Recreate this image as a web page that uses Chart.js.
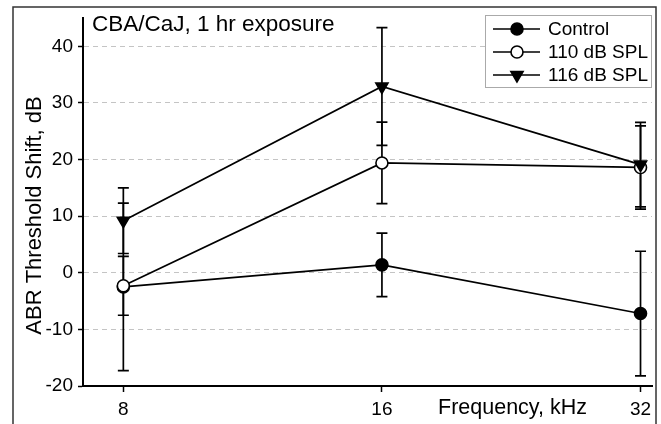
<!DOCTYPE html>
<html>
<head>
<meta charset="utf-8">
<script src="https://cdn.jsdelivr.net/npm/chart.js@4.4.1/dist/chart.umd.min.js"></script>
<style>
  html, body { margin: 0; padding: 0; background: #fff; }
</style>
</head>
<body>
<canvas id="grafico" width="661" height="424"></canvas>
<script>
// ---- datos ----
const frecuencias = [8, 16, 32];          // kHz
const nombresSeries = ['Control', '110 dB SPL', '116 dB SPL'];
const control = [-2.5, 1.4, -7.2];
const errControl = [14.8, 5.6, 11.0];
const spl110 = [-2.3, 19.4, 18.6];
const err110 = [5.2, 7.2, 7.35];
const spl116 = [9.2, 32.9, 19.1];
const err116 = [5.8, 10.4, 7.45];
const ticksX = [8, 16, 32];
const ticksY = [-20, -10, 0, 10, 20, 30, 40];

const FUENTE = "'Liberation Sans', Arial, sans-serif";
const errores = [errControl, err110, err116];

function puntos(valores) {
  return frecuencias.map((f, i) => ({ x: f, y: valores[i] }));
}

// dibuja un marcador igual que en la grafica (para la leyenda)
function marcador(ctx, tipo, relleno, x, y) {
  ctx.save();
  ctx.fillStyle = relleno;
  ctx.strokeStyle = '#000';
  ctx.lineWidth = 1.6;
  ctx.beginPath();
  if (tipo === 'triangle') {
    const r = 7;
    ctx.moveTo(x, y + r);
    ctx.lineTo(x - r * Math.sin(Math.PI / 3), y - r / 2);
    ctx.lineTo(x + r * Math.sin(Math.PI / 3), y - r / 2);
    ctx.closePath();
  } else {
    ctx.arc(x, y, 6, 0, Math.PI * 2);
  }
  ctx.fill();
  ctx.stroke();
  ctx.restore();
}

// barras de error (debajo de los marcadores)
const pluginErrores = {
  id: 'barrasError',
  beforeDatasetsDraw(chart) {
    const ctx = chart.ctx;
    const ejeY = chart.scales.y;
    ctx.save();
    ctx.strokeStyle = '#000';
    ctx.lineWidth = 1.7;
    chart.data.datasets.forEach((ds, i) => {
      const meta = chart.getDatasetMeta(i);
      meta.data.forEach((p, j) => {
        const v = ds.data[j].y;
        const e = errores[i][j];
        const yArr = ejeY.getPixelForValue(v + e);
        const yAba = ejeY.getPixelForValue(v - e);
        ctx.beginPath();
        ctx.moveTo(p.x, yArr); ctx.lineTo(p.x, yAba);
        ctx.moveTo(p.x - 5.5, yArr); ctx.lineTo(p.x + 5.5, yArr);
        ctx.moveTo(p.x - 5.5, yAba); ctx.lineTo(p.x + 5.5, yAba);
        ctx.stroke();
      });
    });
    ctx.restore();
  }
};

// textos, marco y leyenda
const pluginTextos = {
  id: 'textos',
  afterDraw(chart) {
    const ctx = chart.ctx;
    ctx.save();
    // marco exterior
    ctx.strokeStyle = '#333';
    ctx.lineWidth = 1.5;
    ctx.strokeRect(13, 7, 643, 430);

    ctx.fillStyle = '#000';
    ctx.textBaseline = 'alphabetic';
    ctx.font = '22.5px ' + FUENTE;
    ctx.textAlign = 'left';
    ctx.fillText('CBA/CaJ, 1 hr exposure', 92, 30.5);

    ctx.font = '21.5px ' + FUENTE;
    ctx.textAlign = 'center';
    ctx.fillText('Frequency, kHz', 512.5, 414);

    ctx.save();
    ctx.translate(40.5, 215.5);
    ctx.rotate(-Math.PI / 2);
    ctx.font = '22px ' + FUENTE;
    ctx.fillText('ABR Threshold Shift, dB', 0, 0);
    ctx.restore();

    // leyenda
    ctx.fillStyle = '#fff';
    ctx.fillRect(485, 15, 167, 73);
    ctx.strokeStyle = '#aaa';
    ctx.lineWidth = 1;
    ctx.strokeRect(485.5, 15.5, 166, 72);
    const filas = [29, 52, 75];
    chart.data.datasets.forEach((ds, i) => {
      const y = filas[i];
      ctx.strokeStyle = '#000';
      ctx.lineWidth = 1.6;
      ctx.beginPath();
      ctx.moveTo(493, y); ctx.lineTo(540, y);
      ctx.stroke();
      marcador(ctx, ds.pointStyle, ds.pointBackgroundColor, 517, y);
      ctx.fillStyle = '#000';
      ctx.font = '19px ' + FUENTE;
      ctx.textAlign = 'left';
      ctx.textBaseline = 'middle';
      ctx.fillText(ds.label, 548, y + 1);
    });
    ctx.restore();
  }
};

const serieBase = {
  borderColor: '#000',
  borderWidth: 1.7,
  pointBorderColor: '#000',
  pointBorderWidth: 1.6,
  pointRadius: 6,
  tension: 0
};

new Chart(document.getElementById('grafico'), {
  type: 'line',
  data: {
    datasets: [
      Object.assign({}, serieBase, { label: nombresSeries[0], data: puntos(control),
        pointStyle: 'circle', pointBackgroundColor: '#000', order: 3 }),
      Object.assign({}, serieBase, { label: nombresSeries[1], data: puntos(spl110),
        pointStyle: 'circle', pointBackgroundColor: '#fff', order: 2 }),
      Object.assign({}, serieBase, { label: nombresSeries[2], data: puntos(spl116),
        pointStyle: 'triangle', pointRotation: 180, pointRadius: 7,
        pointBackgroundColor: '#000', order: 1 })
    ]
  },
  options: {
    responsive: false,
    animation: false,
    layout: { padding: { left: 0, top: 18, right: 9, bottom: 0 } },
    plugins: { legend: { display: false }, tooltip: { enabled: false } },
    scales: {
      x: {
        type: 'logarithmic',
        min: 7.18,
        max: 33,
        afterBuildTicks: s => { s.ticks = ticksX.map(v => ({ value: v })); },
        afterFit: s => { s.height = 38; },
        ticks: {
          color: '#000',
          font: { family: FUENTE, size: 19 },
          padding: 6,
          maxRotation: 0,
          callback: v => String(v)
        },
        grid: { drawOnChartArea: false, tickColor: '#000', tickLength: 6, tickWidth: 1.5 },
        border: { color: '#000', width: 2 }
      },
      y: {
        min: -20,
        max: 45,
        afterBuildTicks: s => { s.ticks = ticksY.map(v => ({ value: v })); },
        afterFit: s => { s.width = 83; },
        ticks: {
          color: '#000',
          font: { family: FUENTE, size: 19 },
          padding: 5
        },
        grid: { color: '#c4c4c4', lineWidth: 1, tickColor: '#000', tickLength: 5, tickWidth: 1.5 },
        border: { color: '#000', width: 2, dash: [5, 4] }
      }
    }
  },
  plugins: [pluginErrores, pluginTextos]
});
</script>
</body>
</html>
